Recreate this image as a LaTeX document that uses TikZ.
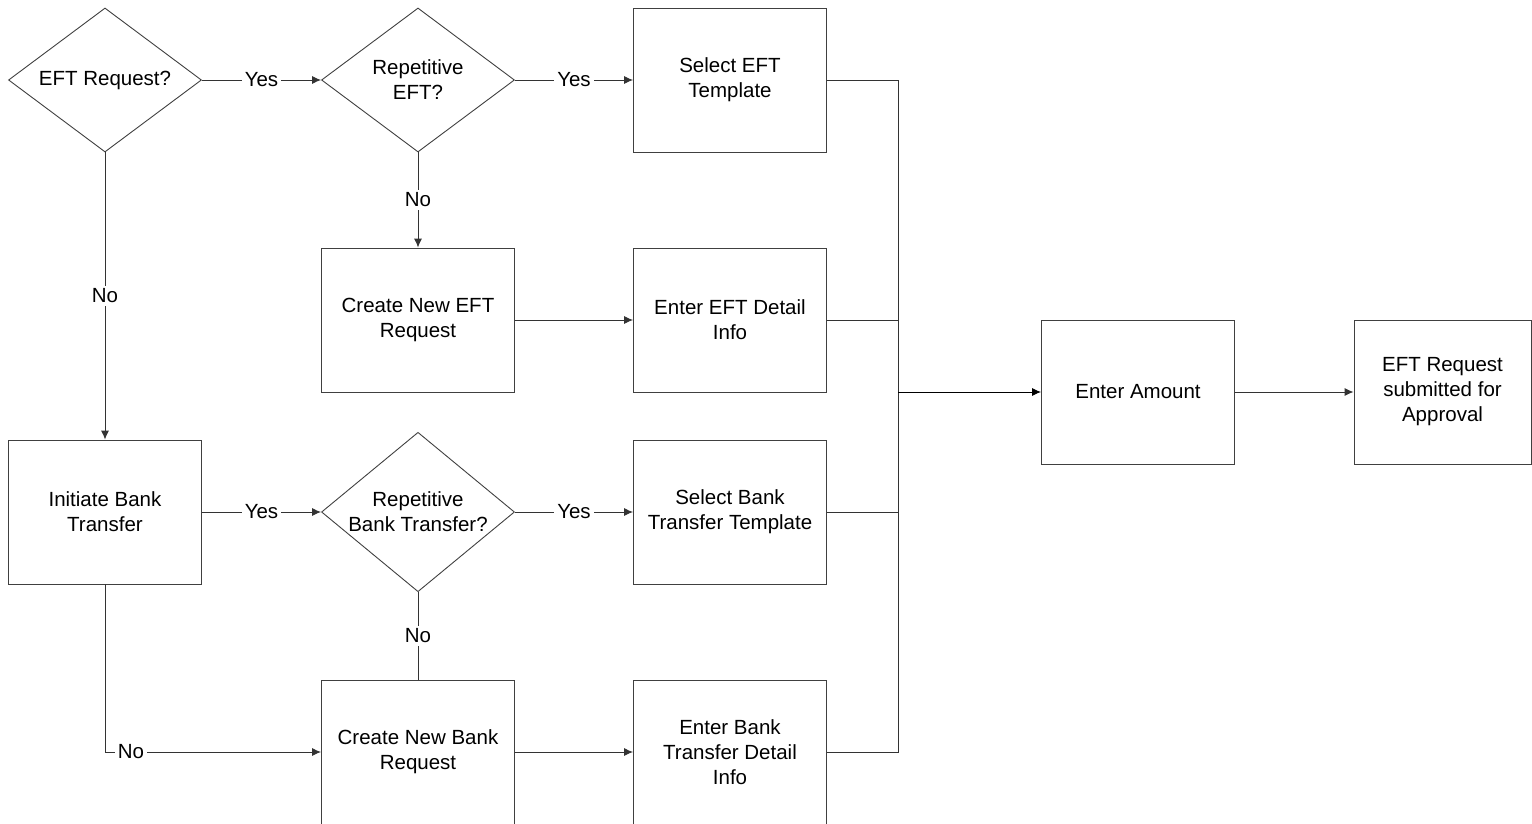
\documentclass[tikz,border=0pt]{standalone}
\usepackage{fontspec}
\setmainfont{Liberation Sans}
\usetikzlibrary{shapes.geometric,arrows.meta}
\tikzset{
  stepbox/.style={draw=black!75, line width=0.9pt, minimum width=193pt, minimum height=144pt, inner sep=2pt, align=center},
  decide/.style={draw=black!75, line width=0.9pt, diamond, minimum width=193pt, minimum height=144pt, inner sep=0pt, inner xsep=-10pt, align=center},
  flow/.style={draw=black!80, line width=0.9pt},
  lbl/.style={fill=white, inner sep=3pt}
}
\begin{document}
\begin{tikzpicture}[x=1pt,y=-1pt,>={Latex[length=9pt,width=8pt]},font=\fontsize{20.5}{25}\selectfont]
    \useasboundingbox (0,0) rectangle (1532,824);
    % decisions
    \node[decide] (eftq) at (105,80) {EFT Request?};
    \node[decide] (repeft) at (418,80) {Repetitive\\EFT?};
    \node[decide] (repbank) at (418,512) {Repetitive\\Bank Transfer?};
    % steps
    \node[stepbox] (eftsel) at (730,80) {Select EFT\\Template};
    \node[stepbox] (eftnew) at (418,320) {Create New EFT\\Request};
    \node[stepbox] (eftinfo) at (730,320) {Enter EFT Detail\\Info};
    \node[stepbox] (bankinit) at (105,512) {Initiate Bank\\Transfer};
    \node[stepbox] (banksel) at (730,512) {Select Bank\\Transfer Template};
    \node[stepbox] (banknew) at (418,752) {Create New Bank\\Request};
    \node[stepbox] (bankinfo) at (730,752) {Enter Bank\\Transfer Detail\\Info};
    \node[stepbox] (amount) at (1138,392) {Enter Amount};
    \node[stepbox, minimum width=177pt] (done) at (1442.5,392) {EFT Request\\submitted for\\Approval};
    \coordinate (jtop) at (898,80);
    \coordinate (jbot) at (898,752);
    \coordinate (jmid) at (898,392);
    \coordinate (bend) at (105,752);
    % connectors
    \draw[flow,->] (eftq) -- node[lbl] {Yes} (repeft);
    \draw[flow,->] (repeft) -- node[lbl] {Yes} (eftsel);
    \draw[flow,->] (repeft) -- node[lbl] {No} (eftnew);
    \draw[flow,->] (eftq) -- node[lbl] {No} (bankinit);
    \draw[flow,->] (eftnew) -- (eftinfo);
    \draw[flow,->] (bankinit) -- node[lbl] {Yes} (repbank);
    \draw[flow,->] (repbank) -- node[lbl] {Yes} (banksel);
    \draw[flow] (repbank) -- node[lbl] {No} (banknew);
    \draw[flow,->] (bankinit) -- (bend) -- node[lbl, pos=0.12] {No} (banknew);
    \draw[flow,->] (banknew) -- (bankinfo);
    \draw[flow] (eftsel) -- (jtop) -- (jbot) -- (bankinfo);
    \draw[flow] (eftinfo) -- (eftinfo -| jtop);
    \draw[flow] (banksel) -- (banksel -| jtop);
    \draw[flow,->,draw=black] (jmid) -- (amount);
    \draw[flow,->] (amount) -- (done);
\end{tikzpicture}
\end{document}
